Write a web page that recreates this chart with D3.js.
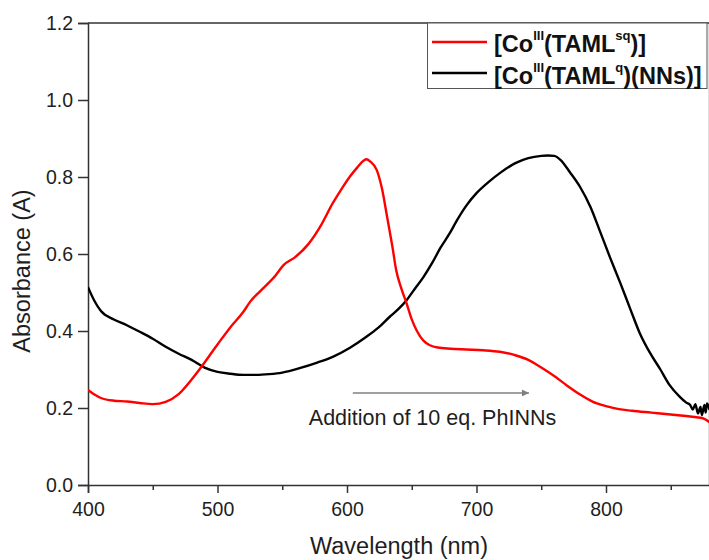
<!DOCTYPE html>
<html>
<head>
<meta charset="utf-8">
<script src="https://cdn.jsdelivr.net/npm/d3@7"></script>
<style>
  html, body { margin: 0; padding: 0; background: #fff; }
  svg { display: block; font-family: "Liberation Sans", Arial, sans-serif; }
</style>
</head>
<body>
<svg id="chart" width="709" height="560"></svg>
<script>
// UV-vis spectra: wavelength (nm) and absorbance (A)
const sqWavelength = [400, 405, 410, 420, 430, 440, 450, 460, 470, 480, 486, 500, 510, 520, 525, 535, 545, 551, 560, 570, 580, 589, 596, 602, 608, 613, 615, 618, 623, 627, 631, 635, 638, 642, 646, 650, 654, 659, 664, 670, 680, 692, 705, 718, 730, 740, 750, 760, 770, 780, 790, 800, 810, 820, 835, 850, 860, 870, 876, 880];
const sqAbsorbance = [0.247, 0.235, 0.226, 0.219, 0.217, 0.213, 0.210, 0.216, 0.236, 0.274, 0.300, 0.365, 0.410, 0.450, 0.475, 0.510, 0.545, 0.571, 0.592, 0.625, 0.675, 0.732, 0.770, 0.800, 0.825, 0.843, 0.846, 0.840, 0.818, 0.770, 0.696, 0.620, 0.558, 0.510, 0.472, 0.430, 0.400, 0.375, 0.363, 0.357, 0.354, 0.352, 0.350, 0.346, 0.337, 0.325, 0.305, 0.283, 0.258, 0.235, 0.216, 0.205, 0.197, 0.193, 0.188, 0.183, 0.180, 0.176, 0.172, 0.163];

const qWavelength = [400, 405, 410, 420, 430, 440, 450, 460, 470, 480, 490, 500, 510, 520, 530, 540, 550, 564, 577, 589, 602, 615, 624, 633, 640, 646, 652, 659, 666, 672, 679, 685, 692, 700, 709, 718, 730, 740, 750, 755, 760, 765, 772, 780, 788, 795, 803, 811, 819, 826, 834, 842, 849, 857, 862, 865, 867, 869, 871, 873, 874, 876, 877, 878, 880];
const qAbsorbance = [0.514, 0.478, 0.452, 0.430, 0.415, 0.398, 0.380, 0.359, 0.341, 0.325, 0.305, 0.294, 0.289, 0.286, 0.286, 0.288, 0.292, 0.304, 0.318, 0.333, 0.356, 0.385, 0.408, 0.437, 0.458, 0.480, 0.508, 0.540, 0.578, 0.615, 0.652, 0.688, 0.725, 0.758, 0.786, 0.810, 0.836, 0.849, 0.855, 0.856, 0.855, 0.844, 0.813, 0.774, 0.722, 0.662, 0.592, 0.525, 0.455, 0.395, 0.343, 0.300, 0.260, 0.229, 0.214, 0.208, 0.196, 0.210, 0.186, 0.203, 0.182, 0.208, 0.188, 0.212, 0.195];

const xTicks = [400, 500, 600, 700, 800];
const xMinorTicks = [450, 550, 650, 750, 850];
const yTicks = [0.0, 0.2, 0.4, 0.6, 0.8, 1.0, 1.2];

const seriesColors = ["#ff0000", "#000000"];

const svg = d3.select("#chart");
const plotLeft = 88, plotTop = 23, plotBottom = 485;
const x = d3.scaleLinear().domain([400, 880]).range([plotLeft, plotLeft + 480 * 1.295]);
const y = d3.scaleLinear().domain([0, 1.2]).range([plotBottom, plotTop]);

const axisColor = "#333";
const textColor = "#1e1e1e";

// frame: top border and right border (right border lands at the canvas edge)
svg.append("line")
  .attr("x1", x(400)).attr("x2", x(880))
  .attr("y1", y(1.2)).attr("y2", y(1.2))
  .attr("stroke", axisColor).attr("stroke-width", 1.5);
svg.append("line")
  .attr("x1", x(880)).attr("x2", x(880))
  .attr("y1", y(1.2)).attr("y2", y(0))
  .attr("stroke", axisColor).attr("stroke-width", 1.5);

// x axis
svg.append("g").attr("transform", `translate(0,${plotBottom})`)
  .call(d3.axisBottom(x).tickValues(xTicks).tickFormat(d3.format("d")).tickSize(8).tickPadding(9));
svg.append("g").attr("transform", `translate(0,${plotBottom})`)
  .call(d3.axisBottom(x).tickValues(xMinorTicks).tickFormat("").tickSize(5))
  .call(g => g.select(".domain").remove());

// y axis
svg.append("g").attr("transform", `translate(${plotLeft},0)`)
  .call(d3.axisLeft(y).tickValues(yTicks).tickFormat(d3.format(".1f")).tickSize(10).tickPadding(5));

svg.selectAll(".domain").attr("stroke", axisColor).attr("stroke-width", 1.5);
svg.selectAll(".tick line").attr("stroke", axisColor).attr("stroke-width", 1.5);
svg.selectAll(".tick text")
  .attr("fill", textColor)
  .style("font-family", "'Liberation Sans', Arial, sans-serif")
  .style("font-size", "19.5px");

// axis titles
svg.append("text")
  .attr("x", 399).attr("y", 554)
  .attr("text-anchor", "middle")
  .attr("fill", textColor)
  .style("font-size", "23.5px")
  .text("Wavelength (nm)");
svg.append("text")
  .attr("transform", "translate(30,271) rotate(-90)")
  .attr("text-anchor", "middle")
  .attr("fill", textColor)
  .style("font-size", "23.5px")
  .text("Absorbance (A)");

// spectra
const line = d3.line()
  .x(d => x(d[0]))
  .y(d => y(d[1]))
  .curve(d3.curveMonotoneX);

const sqData = d3.zip(sqWavelength, sqAbsorbance);
const qData = d3.zip(qWavelength, qAbsorbance);

svg.append("clipPath").attr("id", "plot-clip")
  .append("rect").attr("x", plotLeft).attr("y", plotTop)
  .attr("width", x(880) - plotLeft).attr("height", plotBottom - plotTop);

const plot = svg.append("g").attr("clip-path", "url(#plot-clip)");
plot.append("path").datum(qData)
  .attr("fill", "none").attr("stroke", seriesColors[1]).attr("stroke-width", 2.4)
  .attr("stroke-linejoin", "round").attr("d", line);
plot.append("path").datum(sqData)
  .attr("fill", "none").attr("stroke", seriesColors[0]).attr("stroke-width", 2.4)
  .attr("stroke-linejoin", "round").attr("d", line);

// annotation arrow
const arrowFrom = [604.5, 0.239], arrowTo = [740.5, 0.239];
svg.append("defs").append("marker")
  .attr("id", "arrowhead")
  .attr("viewBox", "0 0 10 10")
  .attr("refX", 10).attr("refY", 5)
  .attr("markerWidth", 13).attr("markerHeight", 7)
  .attr("markerUnits", "userSpaceOnUse")
  .attr("orient", "auto")
  .append("path").attr("d", "M0,0 L10,5 L0,10 Z").attr("fill", "#808080");
svg.append("line")
  .attr("x1", x(arrowFrom[0])).attr("y1", y(arrowFrom[1]))
  .attr("x2", x(arrowTo[0])).attr("y2", y(arrowTo[1]))
  .attr("stroke", "#808080").attr("stroke-width", 1.5)
  .attr("marker-end", "url(#arrowhead)");
svg.append("text")
  .attr("x", 432.5).attr("y", 425)
  .attr("text-anchor", "middle")
  .attr("fill", textColor)
  .style("font-size", "21.5px")
  .text("Addition of 10 eq. PhINNs");

// legend
const legend = svg.append("g");
legend.append("rect")
  .attr("x", 427.5).attr("y", 23).attr("width", 279.5).attr("height", 65.5)
  .attr("fill", "#fff").attr("stroke", "#555").attr("stroke-width", 1);
const legendRows = [
  { color: seriesColors[0], ligand: "sq", tail: ")]", yPos: 42, base: 52 },
  { color: seriesColors[1], ligand: "q", tail: ")(NNs)]", yPos: 73, base: 83.5 }
];
legendRows.forEach(r => {
  legend.append("line")
    .attr("x1", 432).attr("x2", 487).attr("y1", r.yPos).attr("y2", r.yPos)
    .attr("stroke", r.color).attr("stroke-width", 2.4);
  const t = legend.append("text")
    .attr("x", 494).attr("y", r.base)
    .attr("fill", "#111")
    .style("font-size", "23.5px").style("font-weight", "bold");
  t.append("tspan").text("[Co");
  t.append("tspan").attr("dy", -12).style("font-size", "13px").text("III");
  t.append("tspan").attr("dy", 12).text("(TAML");
  t.append("tspan").attr("dy", -12).style("font-size", "13px").text(r.ligand);
  t.append("tspan").attr("dy", 12).text(r.tail);
});
</script>
</body>
</html>
